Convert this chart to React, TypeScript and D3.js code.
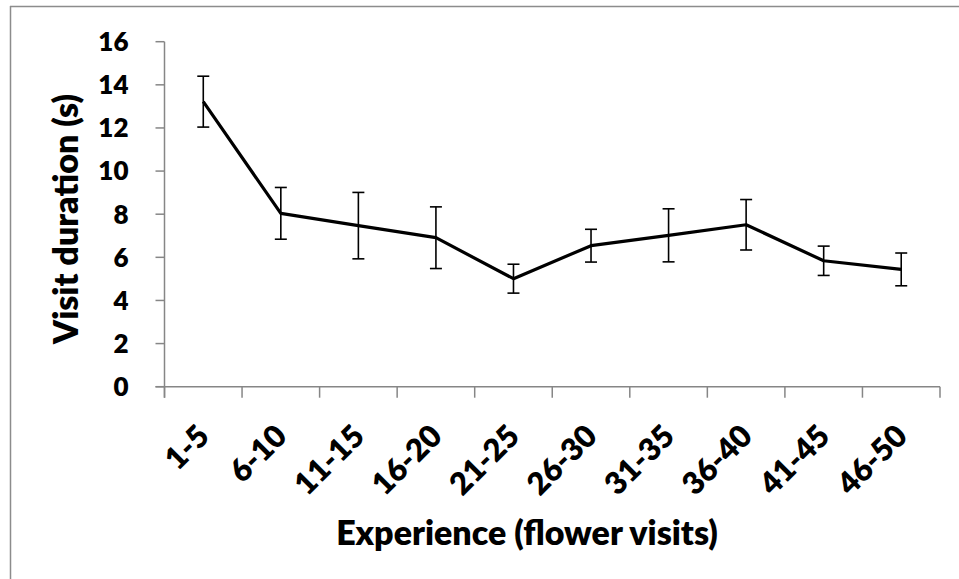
import React from "react";
import * as d3 from "d3";

const categories = ["1-5", "6-10", "11-15", "16-20", "21-25", "26-30", "31-35", "36-40", "41-45", "46-50"];
const means = [13.22, 8.04, 7.47, 6.91, 5.01, 6.54, 7.02, 7.51, 5.84, 5.44];
const errors = [1.18, 1.2, 1.54, 1.43, 0.67, 0.76, 1.23, 1.17, 0.68, 0.76];
const yTicks = [0, 2, 4, 6, 8, 10, 12, 14, 16];

const W = 959;
const H = 579;
const FONT = "Lato, 'Open Sans', sans-serif";

export default function App() {
  const x0 = 164.5, x1 = 940, yTop = 41.7, yBot = 386.7;
  const x = d3.scaleBand<string>().domain(categories).range([x0, x1]).padding(0);
  const y = d3.scaleLinear().domain([0, 16]).range([yBot, yTop]);
  const cx = (c: string) => (x(c) as number) + x.bandwidth() / 2;
  const line = d3.line<number>().x((_, i) => cx(categories[i])).y((d) => y(d));
  const axisColor = "#868686";
  const tickEdges = categories.map((c) => x(c) as number).concat([x1]);

  return (
    <svg width={W} height={H} style={{ position: "absolute", left: 0, top: 0 }}>
      <rect x={0} y={0} width={W} height={H} fill="#fff" />
      <line x1={10} y1={6.5} x2={W} y2={6.5} stroke="#8c8c8c" strokeWidth={1.5} />
      <line x1={10.5} y1={6} x2={10.5} y2={H} stroke="#8c8c8c" strokeWidth={1.5} />

      {/* axes */}
      <line x1={x0} y1={yTop} x2={x0} y2={yBot + 11} stroke={axisColor} strokeWidth={1.5} />
      <line x1={x0 - 9} y1={yBot} x2={x1} y2={yBot} stroke={axisColor} strokeWidth={1.5} />
      {yTicks.map((t) => (
        <g key={t}>
          <line x1={x0 - 9} x2={x0} y1={y(t)} y2={y(t)} stroke={axisColor} strokeWidth={1.5} />
          <text x={x0 - 36} y={y(t)} dy="0.36em" textAnchor="end" fontFamily={FONT} fontWeight={800} fontSize={26} fill="#000">
            {t}
          </text>
        </g>
      ))}
      {tickEdges.map((e, i) => (
        <line key={i} x1={e} x2={e} y1={yBot} y2={yBot + 11} stroke={axisColor} strokeWidth={1.5} />
      ))}
      {categories.map((c) => (
        <text
          key={c}
          transform={`translate(${cx(c) + 8},${438}) rotate(-45)`}
          textAnchor="end"
          fontFamily={FONT}
          fontWeight={800}
          fontSize={31}
          fill="#000"
        >
          {c}
        </text>
      ))}

      {/* error bars */}
      {means.map((m, i) => {
        const px = cx(categories[i]);
        const hi = y(m + errors[i]);
        const lo = y(m - errors[i]);
        return (
          <g key={i} stroke="#000" strokeWidth={1.6}>
            <line x1={px} x2={px} y1={hi} y2={lo} />
            <line x1={px - 6} x2={px + 6} y1={hi} y2={hi} />
            <line x1={px - 6} x2={px + 6} y1={lo} y2={lo} />
          </g>
        );
      })}
      <path d={line(means) || ""} fill="none" stroke="#000" strokeWidth={3.2} strokeLinejoin="round" />

      {/* titles */}
      <text
        transform={`translate(${78},${219}) rotate(-90)`}
        textAnchor="middle"
        fontFamily={FONT}
        fontWeight={800}
        fontSize={34}
        fill="#000"
      >
        Visit duration (s)
      </text>
      <text x={527} y={545} textAnchor="middle" fontFamily={FONT} fontWeight={800} fontSize={34} fill="#000">
        Experience (flower visits)
      </text>
    </svg>
  );
}
